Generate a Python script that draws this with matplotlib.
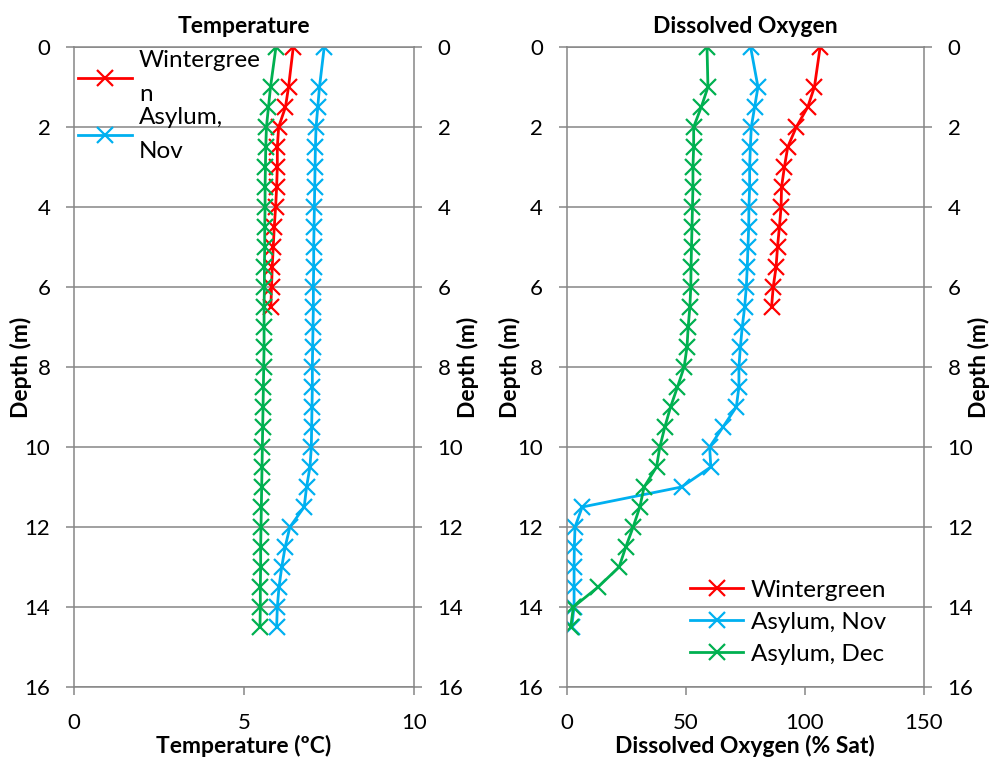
import matplotlib
matplotlib.use("Agg")
import matplotlib.pyplot as plt

plt.rcParams['font.family'] = ['Lato', 'DejaVu Sans']

# depths (m)
depth_wg = [0, 1, 1.5, 2, 2.5, 3, 3.5, 4, 4.5, 5, 5.5, 6, 6.5]
depth_asylum = [0, 1, 1.5, 2, 2.5, 3, 3.5, 4, 4.5, 5, 5.5, 6, 6.5, 7, 7.5,
                8, 8.5, 9, 9.5, 10, 10.5, 11, 11.5, 12, 12.5, 13, 13.5, 14, 14.5]

# temperature (deg C)
temp_wg = [6.45, 6.31, 6.22, 6.02, 5.98, 5.98, 5.96, 5.93, 5.89, 5.86, 5.83, 5.81, 5.79]
temp_nov = [7.36, 7.22, 7.17, 7.12, 7.10, 7.09, 7.08, 7.07, 7.06, 7.05, 7.05, 7.04, 7.04, 7.03, 7.02,
            7.01, 7.01, 7.00, 6.99, 6.98, 6.94, 6.84, 6.77, 6.35, 6.21, 6.11, 6.03, 5.98, 5.96]
temp_dec = [5.94, 5.78, 5.72, 5.66, 5.64, 5.63, 5.62, 5.62, 5.61, 5.61, 5.60, 5.60, 5.59, 5.59, 5.59,
            5.58, 5.57, 5.56, 5.55, 5.54, 5.53, 5.52, 5.51, 5.50, 5.49, 5.49, 5.48, 5.48, 5.47]

# dissolved oxygen (% sat)
do_wg = [106.4, 104.0, 101.2, 96.4, 92.8, 91.4, 90.2, 90.0, 89.3, 88.5, 87.9, 86.7, 86.0]
do_nov = [77.2, 80.3, 78.9, 77.5, 77.1, 76.8, 76.8, 76.5, 76.4, 76.1, 75.8, 75.4, 74.7, 73.7, 72.9,
          72.3, 72.3, 71.2, 65.6, 60.0, 60.5, 48.2, 6.5, 3.5, 3.2, 3.1, 3.1, 3.1, 2.1]
do_dec = [58.9, 59.3, 56.5, 53.3, 53.3, 53.0, 53.0, 52.8, 52.6, 52.4, 52.2, 52.1, 51.7, 51.0, 50.5,
          49.3, 46.5, 43.6, 41.2, 39.1, 37.7, 32.5, 30.7, 27.9, 24.8, 22.0, 13.2, 2.8, 1.7]

RED = '#FF0000'
BLUE = '#00B0F0'
GREEN = '#00B050'
GRID = '#868686'
TICK_FS = 16
LAB_FS = 16.5
LEG_FS = 17.5

W, H = 994, 757
fig = plt.figure(figsize=(W / 100, H / 100), dpi=100)


def make_panel(left_px, right_px, xmax, xticks):
    ax = fig.add_axes([left_px / W, (H - 687) / H, (right_px - left_px) / W, 640 / H])
    ax.set_xlim(0, xmax)
    ax.set_ylim(16, 0)
    ax.set_xticks(xticks)
    ax.set_yticks(range(0, 17, 2))
    ax.grid(axis='y', color=GRID, lw=1.1)
    ax.set_axisbelow(True)
    for s in ax.spines.values():
        s.set_color(GRID)
        s.set_linewidth(1.1)
    ax.tick_params(axis='both', color=GRID, width=1.1, length=6, labelsize=TICK_FS)
    ax.tick_params(axis='y', pad=11)
    ax.tick_params(axis='x', pad=13)
    ax.set_ylabel('Depth (m)', fontweight='bold', fontsize=LAB_FS)

    ax2 = ax.twinx()
    ax2.set_ylim(16, 0)
    ax2.set_yticks(range(0, 17, 2))
    ax2.tick_params(axis='y', color=GRID, width=1.1, length=6, labelsize=TICK_FS, pad=11)
    for s in ax2.spines.values():
        s.set_visible(False)
    ax2.set_ylabel('Depth (m)', fontweight='bold', fontsize=LAB_FS, rotation=90)
    return ax, ax2


mk = dict(marker='x', markersize=12, markeredgewidth=1.6, lw=2)

# Temperature panel
ax1, ax1r = make_panel(74, 414, 10, [0, 5, 10])
ax1.plot(temp_wg, depth_wg, color=RED, label='Wintergree\nn', **mk)
ax1.plot(temp_nov, depth_asylum, color=BLUE, label='Asylum,\nNov', **mk)
ax1.plot(temp_dec, depth_asylum, color=GREEN, label='Asylum, Dec', **mk)
ax1.set_title('Temperature', fontweight='bold', fontsize=LAB_FS, pad=10)
ax1.set_xlabel('Temperature (ºC)', fontweight='bold', fontsize=LAB_FS, labelpad=1)
ax1.yaxis.set_label_coords(-0.124, 0.5)
ax1r.yaxis.set_label_coords(1.126, 0.5)
h, l = ax1.get_legend_handles_labels()
leg1 = ax1.legend(h[:2], l[:2], loc='upper left', bbox_to_anchor=(0.012, 0.995),
                  frameon=False, fontsize=LEG_FS, handlelength=2.2, borderaxespad=0.0,
                  borderpad=0.0, labelspacing=0.1, handletextpad=0.3)
for t in leg1.get_texts():
    t.set_linespacing(1.75)

# Dissolved oxygen panel
ax2, ax2r = make_panel(566.7, 924, 150, [0, 50, 100, 150])
ax2.plot(do_wg, depth_wg, color=RED, label='Wintergreen', **mk)
ax2.plot(do_nov, depth_asylum, color=BLUE, label='Asylum, Nov', **mk)
ax2.plot(do_dec, depth_asylum, color=GREEN, label='Asylum, Dec', **mk)
ax2.set_title('Dissolved Oxygen', fontweight='bold', fontsize=LAB_FS, pad=10)
ax2.set_xlabel('Dissolved Oxygen (% Sat)', fontweight='bold', fontsize=LAB_FS, labelpad=1)
ax2.yaxis.set_label_coords(-0.128, 0.5)
ax2r.yaxis.set_label_coords(1.123, 0.5)
ax2.legend(loc='lower left', bbox_to_anchor=(0.345, 0.035), frameon=False,
           fontsize=LEG_FS, handlelength=2.2, borderaxespad=0.0, borderpad=0.0,
           labelspacing=0.45, handletextpad=0.3)

fig.savefig('out.png', dpi=100)
